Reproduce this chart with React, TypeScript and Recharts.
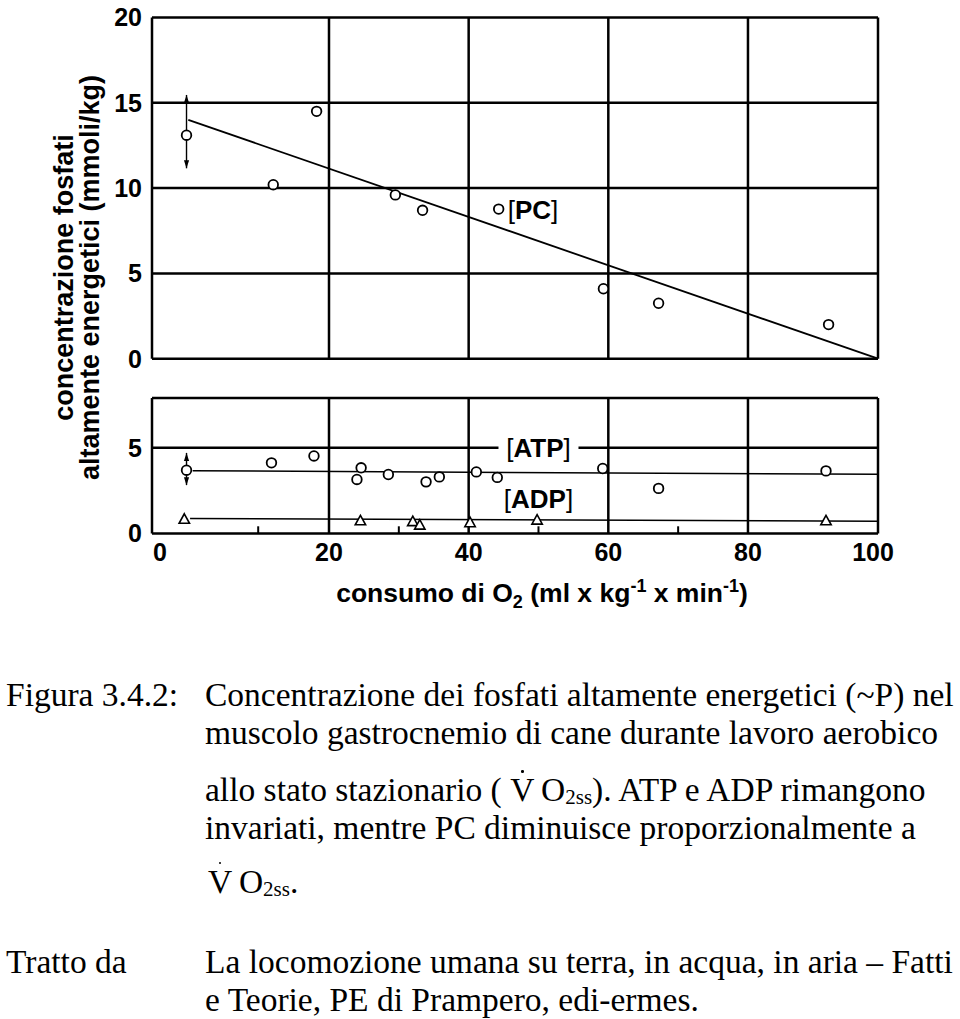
import React from "react";
import {
  ComposedChart,
  Line,
  Scatter,
  XAxis,
  YAxis,
  CartesianGrid,
  ReferenceDot,
  ReferenceLine,
} from "recharts";

const SANS = '"Liberation Sans", Arial, Helvetica, sans-serif';
const SERIF = '"Liberation Serif", "Times New Roman", serif';

// the printed x axis is not uniform: the 0-20 decade is drawn wider than the others
const X_BREAKS = [0, 20, 80, 100];
const X_BREAK_POS = [0, 0.2438, 0.8209, 1];
const X_TICKS = [0, 20, 40, 60, 80, 100];
const X_MINOR_TICKS = [12, 30, 50, 70];

const PC_TICKS = [0, 5, 10, 15, 20];
const LOW_TICKS = [0, 5];

// [PC]
const pcX = [3.9, 13.7, 18.6, 29.5, 33.4, 59.3, 67.2, 92.4];
const pcY = [13.1, 10.2, 14.5, 9.6, 8.7, 4.1, 3.25, 2.0];
const pcErrX = [3.9, 3.9];
const pcErrY = [15.46, 11.16];
const pcFitX = [4.1, 100];
const pcFitY = [14.0, 0];
const pcKey = { x: 44.3, y: 8.77 };

// [ATP]
const atpX = [3.9, 13.5, 18.3, 24.0, 24.6, 28.5, 33.9, 35.8, 41.1, 44.1, 59.2, 67.2, 92.0];
const atpY = [3.69, 4.12, 4.52, 3.15, 3.83, 3.44, 3.01, 3.3, 3.59, 3.27, 3.79, 2.63, 3.65];
const atpErrX = [3.9, 3.9];
const atpErrY = [4.7, 2.82];
const atpFitX = [4.6, 100];
const atpFitY = [3.66, 3.45];

// [ADP]
const adpX = [3.65, 24.5, 32.0, 33.0, 40.2, 49.8, 92.0];
const adpY = [0.83, 0.74, 0.69, 0.49, 0.63, 0.78, 0.74];
const adpFitX = [4.3, 100];
const adpFitY = [0.87, 0.72];

const pts = (xs: number[], ys: number[]) => xs.map((x, i) => ({ x, y: ys[i] }));

function piecewiseScale(breaks: number[], pos: number[]) {
  let dom = [breaks[0], breaks[breaks.length - 1]];
  let rng = [0, 1];
  const frac = (v: number) => {
    let i = 1;
    while (i < breaks.length - 1 && v > breaks[i]) i++;
    const t = (v - breaks[i - 1]) / (breaks[i] - breaks[i - 1]);
    return pos[i - 1] + t * (pos[i] - pos[i - 1]);
  };
  const s: any = (v: number) => rng[0] + frac(v) * (rng[1] - rng[0]);
  s.domain = (d?: number[]) => {
    if (!d) return dom.slice();
    dom = d.slice();
    return s;
  };
  s.range = (r?: number[]) => {
    if (!r) return rng.slice();
    rng = r.slice();
    return s;
  };
  s.ticks = () => breaks.slice();
  s.tickFormat = () => (v: number) => String(v);
  s.invert = (px: number) => {
    const f = (px - rng[0]) / (rng[1] - rng[0]);
    let i = 1;
    while (i < pos.length - 1 && f > pos[i]) i++;
    const t = (f - pos[i - 1]) / (pos[i] - pos[i - 1]);
    return breaks[i - 1] + t * (breaks[i] - breaks[i - 1]);
  };
  s.clamp = () => s;
  s.nice = () => s;
  s.copy = () => piecewiseScale(breaks, pos).domain(dom).range(rng);
  return s;
}

const xScale = piecewiseScale(X_BREAKS, X_BREAK_POS);

const Ring = (p: any) => (
  <circle cx={p.cx} cy={p.cy} r={4.8} fill="#fff" stroke="#000" strokeWidth={1.8} />
);

const Tri = (p: any) => (
  <path
    d={`M${p.cx},${p.cy - 5.5} L${p.cx + 5.2},${p.cy + 4} L${p.cx - 5.2},${p.cy + 4} Z`}
    fill="#fff"
    stroke="#000"
    strokeWidth={1.6}
  />
);

const ArrowDot = (p: any) => {
  const { cx, cy, index } = p;
  const s = index === 0 ? 1 : -1;
  return (
    <path
      key={`arrow-${index}`}
      d={`M${cx},${cy} L${cx - 2.6},${cy + s * 8} L${cx + 2.6},${cy + s * 8} Z`}
      fill="#000"
    />
  );
};

const bracketText = (cx: number, cy: number, name: string, anchor: "middle" | "start") => (
  <text
    x={cx}
    y={cy + 9}
    textAnchor={anchor}
    fontFamily={SANS}
    fontSize={26}
    fill="#000"
  >
    <tspan fontWeight={400}>[</tspan>
    <tspan fontWeight={700}>{name}</tspan>
    <tspan fontWeight={400}>]</tspan>
  </text>
);

const tickStyle = { fill: "#000", fontSize: 25, fontWeight: 700, fontFamily: SANS };

// end labels sit slightly inside the frame in the printed figure
const XTick = (p: any) => {
  const v = p.payload.value;
  const dx = v === 0 ? 8 : v === 100 ? -5 : 0;
  return (
    <text x={p.x + dx} y={p.y} dy="0.71em" textAnchor="middle" {...tickStyle}>
      {v}
    </text>
  );
};

function PcChart() {
  return (
    <ComposedChart width={960} height={380} margin={{ top: 17.5, right: 82, bottom: 21.3, left: 0 }}>
      <CartesianGrid stroke="#000" strokeWidth={2.5} />
      <XAxis
        dataKey="x"
        type="number"
        domain={[0, 100]}
        ticks={X_TICKS}
        scale={xScale}
        hide
        height={0}
      />
      <YAxis
        type="number"
        domain={[0, 20]}
        ticks={PC_TICKS}
        width={152}
        axisLine={false}
        tickLine={false}
        tickMargin={4}
        interval={0}
        tick={tickStyle}
      />
      <Line data={pts(pcFitX, pcFitY)} dataKey="y" type="linear" stroke="#000" strokeWidth={1.8} dot={false} isAnimationActive={false} />
      <Line data={pts(pcErrX, pcErrY)} dataKey="y" type="linear" stroke="#000" strokeWidth={1.4} dot={ArrowDot} isAnimationActive={false} />
      <Scatter data={pts(pcX, pcY)} dataKey="y" shape={Ring} isAnimationActive={false} />
      <ReferenceDot
        x={pcKey.x}
        y={pcKey.y}
        shape={(p: any) => (
          <g>
            <Ring cx={p.cx} cy={p.cy} />
            {bracketText(p.cx + 9, p.cy + 1, "PC", "start")}
          </g>
        )}
      />
    </ComposedChart>
  );
}

function LowChart() {
  return (
    <ComposedChart width={960} height={200} margin={{ top: 18, right: 82, bottom: 16.5, left: 0 }}>
      <CartesianGrid stroke="#000" strokeWidth={2.5} />
      <XAxis
        dataKey="x"
        type="number"
        domain={[0, 100]}
        ticks={X_TICKS}
        scale={xScale}
        interval={0}
        axisLine={false}
        tickLine={false}
        tickMargin={3.5}
        height={30}
        tick={XTick}
      />
      <YAxis
        type="number"
        domain={[0, 7.9]}
        ticks={LOW_TICKS}
        width={152}
        axisLine={false}
        tickLine={false}
        tickMargin={4}
        interval={0}
        tick={tickStyle}
      />
      {X_MINOR_TICKS.map((t) => (
        <ReferenceLine
          key={t}
          segment={[
            { x: t, y: 0 },
            { x: t, y: 0.42 },
          ]}
          stroke="#000"
          strokeWidth={2}
        />
      ))}
      <ReferenceDot
        x={50}
        y={5}
        shape={(p: any) => (
          <g>
            <rect x={p.cx - 40} y={p.cy - 14} width={80} height={28} fill="#fff" />
            {bracketText(p.cx, p.cy, "ATP", "middle")}
          </g>
        )}
      />
      <ReferenceDot x={50} y={2.0} shape={(p: any) => bracketText(p.cx, p.cy, "ADP", "middle")} />
      <Line data={pts(atpFitX, atpFitY)} dataKey="y" type="linear" stroke="#000" strokeWidth={1.5} dot={false} isAnimationActive={false} />
      <Line data={pts(adpFitX, adpFitY)} dataKey="y" type="linear" stroke="#000" strokeWidth={1.5} dot={false} isAnimationActive={false} />
      <Line data={pts(atpErrX, atpErrY)} dataKey="y" type="linear" stroke="#000" strokeWidth={1.4} dot={ArrowDot} isAnimationActive={false} />
      <Scatter data={pts(atpX, atpY)} dataKey="y" shape={Ring} isAnimationActive={false} />
      <Scatter data={pts(adpX, adpY)} dataKey="y" shape={Tri} isAnimationActive={false} />
    </ComposedChart>
  );
}

const CAP_SIZE = 33.5;

const capStyle: React.CSSProperties = {
  position: "absolute",
  fontFamily: SERIF,
  fontSize: CAP_SIZE,
  lineHeight: `${CAP_SIZE}px`,
  whiteSpace: "nowrap",
  color: "#000",
};

function CapLine({ x, baseline, children }: { x: number; baseline: number; children: React.ReactNode }) {
  return <div style={{ ...capStyle, left: x, top: baseline - 28.1 }}>{children}</div>;
}

// V with the flux dot drawn above it
function VO2ss() {
  return (
    <>
      <span style={{ position: "relative", display: "inline-block" }}>
        V
        <span
          style={{
            position: "absolute",
            left: "50%",
            top: -3,
            width: 2.6,
            height: 2.6,
            marginLeft: -1.3,
            borderRadius: "50%",
            background: "#000",
          }}
        />
      </span>
      {"\u2009O"}
      <span style={{ position: "relative", top: 3, fontSize: 21, lineHeight: "21px" }}>2ss</span>
    </>
  );
}

export default function App() {
  return (
    <div style={{ position: "absolute", left: 0, top: 0, width: 960, height: 1019, background: "#fff", overflow: "hidden" }}>
      <div style={{ position: "absolute", left: 0, top: 0 }}>
        <PcChart />
      </div>
      <div style={{ position: "absolute", left: 0, top: 380 }}>
        <LowChart />
      </div>
      <svg width={960} height={640} style={{ position: "absolute", left: 0, top: 0, pointerEvents: "none" }}>
        <g fontFamily={SANS} fontWeight={700} fill="#000">
          <text transform="translate(73,277.5) rotate(-90)" textAnchor="middle" fontSize={27}>
            concentrazione fosfati
          </text>
          <text transform="translate(99,277.5) rotate(-90)" textAnchor="middle" fontSize={27}>
            altamente energetici (mmoli/kg)
          </text>
          <text x={542} y={602} textAnchor="middle" fontSize={26.5}>
            consumo di O
            <tspan fontSize={18} dy={6}>2</tspan>
            <tspan dy={-6}> (ml x kg</tspan>
            <tspan fontSize={18} dy={-10}>-1</tspan>
            <tspan dy={10}> x min</tspan>
            <tspan fontSize={18} dy={-10}>-1</tspan>
            <tspan dy={10}>)</tspan>
          </text>
        </g>
      </svg>
      <CapLine x={6} baseline={706.5}>Figura 3.4.2:</CapLine>
      <CapLine x={205} baseline={706.5}>Concentrazione dei fosfati altamente energetici (~P) nel</CapLine>
      <CapLine x={205} baseline={744.5}>muscolo gastrocnemio di cane durante lavoro aerobico</CapLine>
      <CapLine x={205} baseline={801.5}>
        allo stato stazionario ( <VO2ss />). ATP e ADP rimangono
      </CapLine>
      <CapLine x={205} baseline={839.5}>invariati, mentre PC diminuisce proporzionalmente a</CapLine>
      <CapLine x={208} baseline={893}>
        <VO2ss />.
      </CapLine>
      <CapLine x={6} baseline={973}>Tratto da</CapLine>
      <CapLine x={205} baseline={973}>La locomozione umana su terra, in acqua, in aria – Fatti</CapLine>
      <CapLine x={205} baseline={1011}>e Teorie, PE di Prampero, edi-ermes.</CapLine>
    </div>
  );
}
